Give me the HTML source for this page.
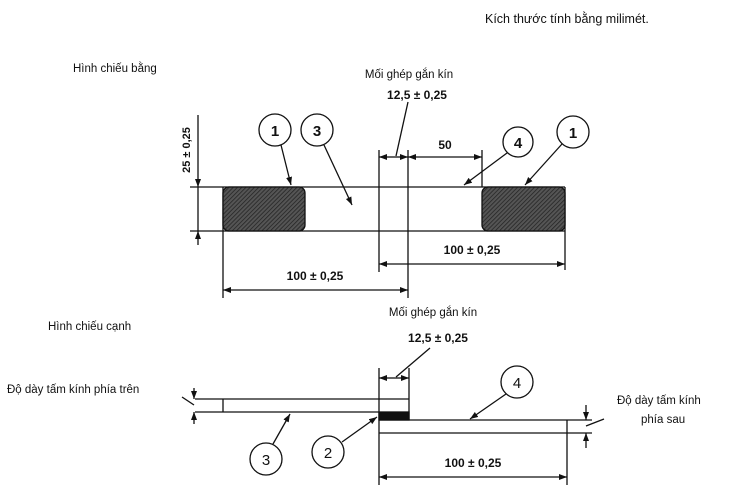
<!DOCTYPE html>
<html><head><meta charset="utf-8"><style>
html,body{margin:0;padding:0;background:#fff;}
svg{display:block;}
text{font-family:"Liberation Sans",sans-serif;fill:#111;font-size:12px;}
.b{font-weight:bold;}
</style></head><body>
<svg width="731" height="496" viewBox="0 0 731 496" xmlns="http://www.w3.org/2000/svg">
<defs>
<pattern id="h" width="3" height="3" patternUnits="userSpaceOnUse" patternTransform="rotate(45)">
<rect width="3" height="3" fill="#555"/><line x1="0" y1="0" x2="0" y2="3" stroke="#222" stroke-width="1.5"/>
</pattern>
<marker id="a" markerWidth="8" markerHeight="6" refX="8" refY="3" orient="auto" markerUnits="userSpaceOnUse"><path d="M0,0 L8,3 L0,6 z" fill="#111"/></marker>
</defs>
<g stroke="#111" stroke-width="1.3" fill="none">
<line x1="190" y1="187" x2="565" y2="187"/>
<line x1="190" y1="231" x2="565" y2="231"/>
<line x1="223" y1="187" x2="223" y2="298"/>
<line x1="565" y1="187" x2="565" y2="270"/>
<rect x="223" y="187" width="82" height="44" rx="6" fill="url(#h)"/>
<rect x="482" y="187" width="83" height="44" rx="6" fill="url(#h)"/>
<line x1="379" y1="150" x2="379" y2="272"/>
<line x1="408" y1="150" x2="408" y2="298"/>
<line x1="482" y1="150" x2="482" y2="187"/>
<line x1="198" y1="115" x2="198" y2="187" marker-end="url(#a)"/>
<line x1="198" y1="245" x2="198" y2="231" marker-end="url(#a)"/>
<line x1="198" y1="187" x2="198" y2="231"/>
<line x1="395" y1="157" x2="379" y2="157" marker-end="url(#a)"/>
<line x1="395" y1="157" x2="408" y2="157" marker-end="url(#a)"/>
<line x1="445" y1="157" x2="408" y2="157" marker-end="url(#a)"/>
<line x1="445" y1="157" x2="482" y2="157" marker-end="url(#a)"/>
<line x1="470" y1="264" x2="379" y2="264" marker-end="url(#a)"/>
<line x1="470" y1="264" x2="565" y2="264" marker-end="url(#a)"/>
<line x1="315" y1="290" x2="223" y2="290" marker-end="url(#a)"/>
<line x1="315" y1="290" x2="408" y2="290" marker-end="url(#a)"/>
<line x1="408" y1="102" x2="396" y2="156"/>
<circle cx="275" cy="130" r="16" fill="#fff"/>
<circle cx="317" cy="130" r="16" fill="#fff"/>
<circle cx="518" cy="142" r="15" fill="#fff"/>
<circle cx="573" cy="132" r="16" fill="#fff"/>
<line x1="281" y1="145" x2="291" y2="185" marker-end="url(#a)"/>
<line x1="324" y1="145" x2="352" y2="205" marker-end="url(#a)"/>
<line x1="507" y1="153" x2="464" y2="185" marker-end="url(#a)"/>
<line x1="562" y1="144" x2="525" y2="185" marker-end="url(#a)"/>
<line x1="195" y1="399" x2="409" y2="399"/>
<line x1="195" y1="412" x2="379" y2="412"/>
<line x1="223" y1="399" x2="223" y2="412"/>
<line x1="379" y1="368" x2="379" y2="485"/>
<line x1="409" y1="368" x2="409" y2="420"/>
<rect x="379" y="412" width="30" height="8" fill="#111"/>
<line x1="379" y1="420" x2="592" y2="420"/>
<line x1="379" y1="433" x2="592" y2="433"/>
<line x1="567" y1="420" x2="567" y2="485"/>
<line x1="394" y1="378" x2="379" y2="378" marker-end="url(#a)"/>
<line x1="394" y1="378" x2="409" y2="378" marker-end="url(#a)"/>
<line x1="430" y1="348" x2="396" y2="377"/>
<line x1="194" y1="388" x2="194" y2="399" marker-end="url(#a)"/>
<line x1="194" y1="424" x2="194" y2="412" marker-end="url(#a)"/>
<line x1="182" y1="397" x2="194" y2="405"/>
<line x1="586" y1="405" x2="586" y2="420" marker-end="url(#a)"/>
<line x1="586" y1="448" x2="586" y2="433" marker-end="url(#a)"/>
<line x1="586" y1="426" x2="604" y2="419"/>
<line x1="475" y1="477" x2="379" y2="477" marker-end="url(#a)"/>
<line x1="475" y1="477" x2="567" y2="477" marker-end="url(#a)"/>
<circle cx="517" cy="382" r="16" fill="#fff"/>
<circle cx="266" cy="459" r="16" fill="#fff"/>
<circle cx="328" cy="452" r="16" fill="#fff"/>
<line x1="506" y1="394" x2="470" y2="419" marker-end="url(#a)"/>
<line x1="273" y1="444" x2="290" y2="414" marker-end="url(#a)"/>
<line x1="342" y1="442" x2="377" y2="417" marker-end="url(#a)"/>
</g>
<g text-anchor="middle">
<text x="275" y="136" class="b" style="font-size:15px">1</text>
<text x="317" y="136" class="b" style="font-size:15px">3</text>
<text x="518" y="148" class="b" style="font-size:15px">4</text>
<text x="573" y="138" class="b" style="font-size:15px">1</text>
<text x="517" y="388" style="font-size:15px">4</text>
<text x="266" y="465" style="font-size:15px">3</text>
<text x="328" y="458" style="font-size:15px">2</text>
</g>
<text x="485" y="23" style="font-size:12.5px">Kích thước tính bằng milimét.</text>
<text x="73" y="72" style="font-size:11.5px">Hình chiếu bằng</text>
<text x="409" y="78" text-anchor="middle" style="font-size:11.5px">Mối ghép gắn kín</text>
<text x="417" y="99" text-anchor="middle" class="b">12,5 ± 0,25</text>
<text x="445" y="149" text-anchor="middle" class="b">50</text>
<text x="472" y="254" text-anchor="middle" class="b">100 ± 0,25</text>
<text x="315" y="280" text-anchor="middle" class="b">100 ± 0,25</text>
<text transform="translate(190,150) rotate(-90)" text-anchor="middle" class="b" style="font-size:11px">25 ± 0,25</text>
<text x="48" y="330" style="font-size:11.5px">Hình chiếu cạnh</text>
<text x="433" y="316" text-anchor="middle" style="font-size:11.5px">Mối ghép gắn kín</text>
<text x="438" y="342" text-anchor="middle" class="b">12,5 ± 0,25</text>
<text x="7" y="393" style="font-size:11.5px">Độ dày tấm kính phía trên</text>
<text x="617" y="404" style="font-size:11.5px">Độ dày tấm kính</text>
<text x="641" y="423" style="font-size:11.5px">phía sau</text>
<text x="473" y="467" text-anchor="middle" class="b">100 ± 0,25</text>
</svg>
</body></html>
